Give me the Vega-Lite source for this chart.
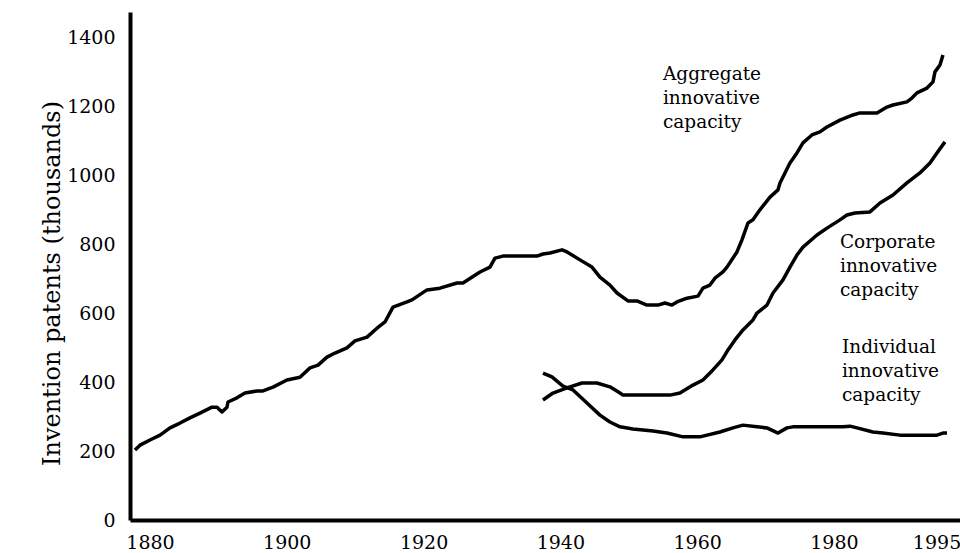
{
  "$schema": "https://vega.github.io/schema/vega-lite/v6.json",
  "width": 830,
  "height": 508,
  "padding": {"left": 130, "top": 12, "right": 0, "bottom": 33},
  "autosize": {"type": "none"},
  "background": "white",
  "config": {
    "view": {"stroke": null},
    "font": "DejaVu Serif",
    "axis": {"labelFont": "DejaVu Serif", "titleFont": "DejaVu Serif", "labelColor": "black", "titleColor": "black", "domainColor": "black", "domainWidth": 4, "ticks": false, "tickSize": 0, "grid": false, "labelFontSize": 19, "titleFontWeight": "normal"}
  },
  "datasets": {
    "series": [
      {"series": "Aggregate", "year": 1877.81, "value": 203},
      {"series": "Aggregate", "year": 1878.54, "value": 217},
      {"series": "Aggregate", "year": 1880.0, "value": 232},
      {"series": "Aggregate", "year": 1881.47, "value": 246},
      {"series": "Aggregate", "year": 1882.93, "value": 267},
      {"series": "Aggregate", "year": 1884.39, "value": 281},
      {"series": "Aggregate", "year": 1885.85, "value": 296},
      {"series": "Aggregate", "year": 1887.31, "value": 310},
      {"series": "Aggregate", "year": 1889.07, "value": 327},
      {"series": "Aggregate", "year": 1889.8, "value": 327},
      {"series": "Aggregate", "year": 1890.53, "value": 313},
      {"series": "Aggregate", "year": 1891.26, "value": 327},
      {"series": "Aggregate", "year": 1891.41, "value": 342},
      {"series": "Aggregate", "year": 1892.72, "value": 354},
      {"series": "Aggregate", "year": 1893.89, "value": 368},
      {"series": "Aggregate", "year": 1895.65, "value": 374},
      {"series": "Aggregate", "year": 1896.52, "value": 374},
      {"series": "Aggregate", "year": 1897.99, "value": 385},
      {"series": "Aggregate", "year": 1900.03, "value": 406},
      {"series": "Aggregate", "year": 1901.93, "value": 414},
      {"series": "Aggregate", "year": 1903.4, "value": 441},
      {"series": "Aggregate", "year": 1904.57, "value": 449},
      {"series": "Aggregate", "year": 1905.88, "value": 472},
      {"series": "Aggregate", "year": 1907.05, "value": 484},
      {"series": "Aggregate", "year": 1908.8, "value": 499},
      {"series": "Aggregate", "year": 1909.97, "value": 519},
      {"series": "Aggregate", "year": 1911.73, "value": 530},
      {"series": "Aggregate", "year": 1913.19, "value": 556},
      {"series": "Aggregate", "year": 1914.36, "value": 574},
      {"series": "Aggregate", "year": 1915.53, "value": 617},
      {"series": "Aggregate", "year": 1917.58, "value": 632},
      {"series": "Aggregate", "year": 1918.31, "value": 638},
      {"series": "Aggregate", "year": 1920.5, "value": 667},
      {"series": "Aggregate", "year": 1922.4, "value": 672},
      {"series": "Aggregate", "year": 1924.89, "value": 687},
      {"series": "Aggregate", "year": 1925.76, "value": 687},
      {"series": "Aggregate", "year": 1928.25, "value": 719},
      {"series": "Aggregate", "year": 1929.71, "value": 733},
      {"series": "Aggregate", "year": 1930.44, "value": 759},
      {"series": "Aggregate", "year": 1931.61, "value": 765},
      {"series": "Aggregate", "year": 1936.58, "value": 765},
      {"series": "Aggregate", "year": 1937.46, "value": 771},
      {"series": "Aggregate", "year": 1938.48, "value": 774},
      {"series": "Aggregate", "year": 1940.24, "value": 783},
      {"series": "Aggregate", "year": 1940.97, "value": 777},
      {"series": "Aggregate", "year": 1942.87, "value": 754},
      {"series": "Aggregate", "year": 1944.62, "value": 733},
      {"series": "Aggregate", "year": 1945.79, "value": 704},
      {"series": "Aggregate", "year": 1947.25, "value": 681},
      {"series": "Aggregate", "year": 1948.28, "value": 658},
      {"series": "Aggregate", "year": 1949.88, "value": 635},
      {"series": "Aggregate", "year": 1951.2, "value": 635},
      {"series": "Aggregate", "year": 1952.66, "value": 623},
      {"series": "Aggregate", "year": 1954.27, "value": 623},
      {"series": "Aggregate", "year": 1955.29, "value": 629},
      {"series": "Aggregate", "year": 1956.32, "value": 623},
      {"series": "Aggregate", "year": 1957.05, "value": 632},
      {"series": "Aggregate", "year": 1958.51, "value": 643},
      {"series": "Aggregate", "year": 1960.12, "value": 649},
      {"series": "Aggregate", "year": 1960.85, "value": 672},
      {"series": "Aggregate", "year": 1961.87, "value": 681},
      {"series": "Aggregate", "year": 1962.6, "value": 701},
      {"series": "Aggregate", "year": 1963.77, "value": 719},
      {"series": "Aggregate", "year": 1964.36, "value": 733},
      {"series": "Aggregate", "year": 1965.82, "value": 777},
      {"series": "Aggregate", "year": 1966.55, "value": 812},
      {"series": "Aggregate", "year": 1967.43, "value": 861},
      {"series": "Aggregate", "year": 1968.16, "value": 870},
      {"series": "Aggregate", "year": 1969.18, "value": 899},
      {"series": "Aggregate", "year": 1970.65, "value": 936},
      {"series": "Aggregate", "year": 1971.82, "value": 957},
      {"series": "Aggregate", "year": 1972.11, "value": 977},
      {"series": "Aggregate", "year": 1972.84, "value": 1006},
      {"series": "Aggregate", "year": 1973.57, "value": 1035},
      {"series": "Aggregate", "year": 1974.59, "value": 1064},
      {"series": "Aggregate", "year": 1975.47, "value": 1093},
      {"series": "Aggregate", "year": 1976.78, "value": 1116},
      {"series": "Aggregate", "year": 1977.95, "value": 1125},
      {"series": "Aggregate", "year": 1978.98, "value": 1139},
      {"series": "Aggregate", "year": 1980.88, "value": 1159},
      {"series": "Aggregate", "year": 1982.78, "value": 1174},
      {"series": "Aggregate", "year": 1983.8, "value": 1180},
      {"series": "Aggregate", "year": 1986.29, "value": 1180},
      {"series": "Aggregate", "year": 1987.75, "value": 1197},
      {"series": "Aggregate", "year": 1988.63, "value": 1203},
      {"series": "Aggregate", "year": 1990.67, "value": 1212},
      {"series": "Aggregate", "year": 1991.4, "value": 1223},
      {"series": "Aggregate", "year": 1992.14, "value": 1238},
      {"series": "Aggregate", "year": 1993.6, "value": 1252},
      {"series": "Aggregate", "year": 1994.48, "value": 1270},
      {"series": "Aggregate", "year": 1994.77, "value": 1299},
      {"series": "Aggregate", "year": 1995.5, "value": 1319},
      {"series": "Aggregate", "year": 1995.94, "value": 1348},
      {"series": "Corporate", "year": 1937.46, "value": 348},
      {"series": "Corporate", "year": 1938.92, "value": 368},
      {"series": "Corporate", "year": 1940.97, "value": 383},
      {"series": "Corporate", "year": 1943.16, "value": 397},
      {"series": "Corporate", "year": 1945.35, "value": 397},
      {"series": "Corporate", "year": 1947.25, "value": 386},
      {"series": "Corporate", "year": 1948.72, "value": 368},
      {"series": "Corporate", "year": 1949.15, "value": 362},
      {"series": "Corporate", "year": 1956.02, "value": 362},
      {"series": "Corporate", "year": 1957.49, "value": 368},
      {"series": "Corporate", "year": 1959.39, "value": 391},
      {"series": "Corporate", "year": 1960.85, "value": 406},
      {"series": "Corporate", "year": 1962.31, "value": 435},
      {"series": "Corporate", "year": 1963.63, "value": 464},
      {"series": "Corporate", "year": 1964.51, "value": 493},
      {"series": "Corporate", "year": 1965.53, "value": 522},
      {"series": "Corporate", "year": 1966.7, "value": 551},
      {"series": "Corporate", "year": 1968.16, "value": 580},
      {"series": "Corporate", "year": 1968.75, "value": 600},
      {"series": "Corporate", "year": 1970.21, "value": 623},
      {"series": "Corporate", "year": 1971.09, "value": 658},
      {"series": "Corporate", "year": 1972.55, "value": 696},
      {"series": "Corporate", "year": 1973.57, "value": 733},
      {"series": "Corporate", "year": 1974.59, "value": 768},
      {"series": "Corporate", "year": 1975.47, "value": 791},
      {"series": "Corporate", "year": 1977.52, "value": 826},
      {"series": "Corporate", "year": 1978.98, "value": 846},
      {"series": "Corporate", "year": 1980.88, "value": 870},
      {"series": "Corporate", "year": 1981.9, "value": 884},
      {"series": "Corporate", "year": 1983.07, "value": 890},
      {"series": "Corporate", "year": 1985.27, "value": 893},
      {"series": "Corporate", "year": 1986.73, "value": 919},
      {"series": "Corporate", "year": 1988.63, "value": 942},
      {"series": "Corporate", "year": 1990.67, "value": 977},
      {"series": "Corporate", "year": 1992.57, "value": 1006},
      {"series": "Corporate", "year": 1994.04, "value": 1035},
      {"series": "Corporate", "year": 1995.06, "value": 1064},
      {"series": "Corporate", "year": 1996.23, "value": 1096},
      {"series": "Individual", "year": 1937.46, "value": 426},
      {"series": "Individual", "year": 1938.77, "value": 415},
      {"series": "Individual", "year": 1940.38, "value": 388},
      {"series": "Individual", "year": 1941.85, "value": 377},
      {"series": "Individual", "year": 1943.89, "value": 339},
      {"series": "Individual", "year": 1945.79, "value": 304},
      {"series": "Individual", "year": 1947.25, "value": 284},
      {"series": "Individual", "year": 1948.72, "value": 270},
      {"series": "Individual", "year": 1950.62, "value": 264},
      {"series": "Individual", "year": 1953.54, "value": 258},
      {"series": "Individual", "year": 1955.59, "value": 252},
      {"series": "Individual", "year": 1957.93, "value": 241},
      {"series": "Individual", "year": 1960.41, "value": 241},
      {"series": "Individual", "year": 1963.33, "value": 255},
      {"series": "Individual", "year": 1965.23, "value": 267},
      {"series": "Individual", "year": 1966.7, "value": 275},
      {"series": "Individual", "year": 1968.75, "value": 270},
      {"series": "Individual", "year": 1970.21, "value": 267},
      {"series": "Individual", "year": 1971.82, "value": 252},
      {"series": "Individual", "year": 1973.13, "value": 267},
      {"series": "Individual", "year": 1974.01, "value": 270},
      {"series": "Individual", "year": 1977.96, "value": 270},
      {"series": "Individual", "year": 1981.32, "value": 270},
      {"series": "Individual", "year": 1982.34, "value": 272},
      {"series": "Individual", "year": 1983.37, "value": 267},
      {"series": "Individual", "year": 1985.7, "value": 255},
      {"series": "Individual", "year": 1987.16, "value": 252},
      {"series": "Individual", "year": 1989.65, "value": 246},
      {"series": "Individual", "year": 1995.06, "value": 246},
      {"series": "Individual", "year": 1995.94, "value": 252},
      {"series": "Individual", "year": 1996.53, "value": 252}
    ],
    "labels": [
      {"label": "Aggregate\ninnovative\ncapacity", "year": 1955.0, "value": 1275},
      {"label": "Corporate\ninnovative\ncapacity", "year": 1980.88, "value": 788},
      {"label": "Individual\ninnovative\ncapacity", "year": 1981.17, "value": 484}
    ]
  },
  "layer": [
    {
      "data": {"name": "series"},
      "mark": {"type": "line", "color": "black", "strokeWidth": 3.5, "strokeCap": "butt", "strokeJoin": "round", "clip": false},
      "encoding": {
        "x": {"field": "year", "type": "quantitative", "scale": {"domain": [1877.08, 1998.43], "nice": false, "zero": false},
          "axis": {"values": [1880, 1900, 1920, 1940, 1960, 1980, 1995], "format": "d", "title": null, "labelPadding": 13, "labelFlush": false, "labelOverlap": false}},
        "y": {"field": "value", "type": "quantitative", "scale": {"domain": [0, 1472.5], "nice": false},
          "axis": {"values": [0, 200, 400, 600, 800, 1000, 1200, 1400], "format": "d", "title": "Invention patents (thousands)", "titleFontSize": 24, "labelPadding": 15, "titleX": -66, "titleY": 271, "labelFlush": false, "labelOverlap": false}},
        "detail": {"field": "series", "type": "nominal"}
      }
    },
    {
      "data": {"name": "labels"},
      "mark": {"type": "text", "align": "left", "baseline": "alphabetic", "lineBreak": "\n", "lineHeight": 24, "fontSize": 18.5, "font": "DejaVu Serif", "color": "black"},
      "encoding": {
        "x": {"field": "year", "type": "quantitative"},
        "y": {"field": "value", "type": "quantitative"},
        "text": {"field": "label", "type": "nominal"}
      }
    }
  ]
}
